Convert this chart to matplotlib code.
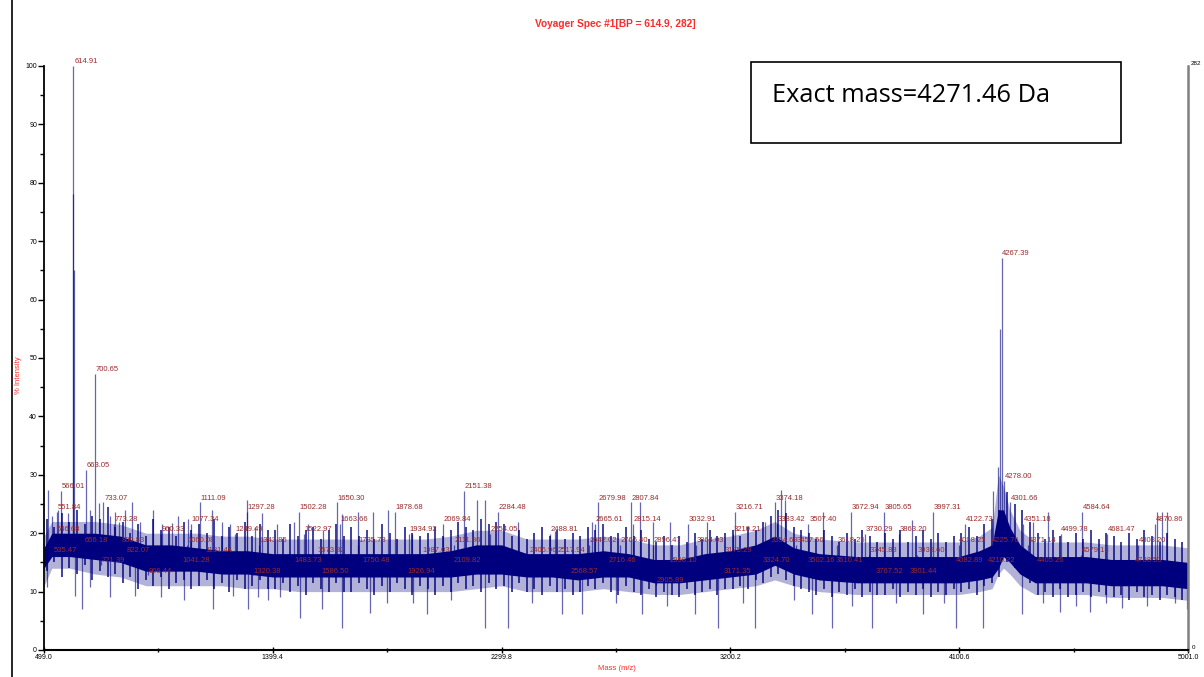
import matplotlib
matplotlib.use("Agg")
import matplotlib.pyplot as plt
from matplotlib.lines import Line2D
from matplotlib.patches import Rectangle
import numpy as np

# ---- spectrum data (m/z, % intensity) ----
# noise band: dense core and lighter fringe
band_mass = [499, 530, 600, 700, 800, 900, 1000, 1100, 1200, 1300, 1400, 1500, 1600,
             1700, 1800, 1900, 2000, 2100, 2200, 2300, 2400, 2500, 2600, 2700, 2800,
             2900, 3000, 3100, 3200, 3300, 3375, 3450, 3550, 3700, 3850, 4000, 4100,
             4180, 4230, 4255, 4275, 4300, 4340, 4400, 4500, 4600, 4700, 4800, 4900, 5001]
core_lo = [14.0, 16.0, 16.0, 15.5, 15.0, 13.5, 13.5, 13.5, 13.0, 13.0, 12.5, 12.5, 12.5,
           12.5, 12.5, 12.5, 12.5, 12.5, 13.0, 13.0, 12.5, 12.5, 12.0, 12.5, 12.5,
           11.5, 11.5, 12.0, 12.5, 13.0, 14.5, 13.0, 12.0, 11.5, 11.5, 11.5, 11.5,
           12.0, 12.5, 14.0, 16.0, 15.0, 13.0, 11.5, 11.5, 11.5, 11.0, 11.0, 11.0, 10.5]
core_hi = [17.5, 20.0, 20.0, 20.0, 19.5, 18.0, 18.0, 17.5, 17.0, 17.0, 16.5, 16.5, 16.5,
           16.5, 16.5, 16.5, 16.5, 17.0, 18.0, 18.0, 16.5, 16.5, 16.5, 17.0, 16.5,
           15.5, 15.5, 16.5, 17.0, 18.0, 19.5, 17.5, 16.5, 16.0, 16.0, 16.0, 16.0,
           17.0, 18.0, 24.0, 24.0, 21.0, 18.0, 16.0, 16.0, 16.0, 15.5, 15.5, 15.5, 15.0]
fringe_lo = [11.0, 14.0, 14.0, 13.0, 12.5, 11.0, 11.0, 11.0, 11.0, 10.5, 10.5, 10.0, 10.0,
             10.0, 10.0, 10.0, 10.0, 10.0, 10.5, 11.0, 10.0, 10.0, 10.0, 10.5, 10.0,
             9.5, 9.5, 10.0, 10.5, 11.0, 12.0, 11.0, 10.0, 9.5, 9.5, 9.5, 9.5,
             10.0, 10.5, 13.0, 14.0, 13.0, 11.0, 9.5, 9.5, 9.5, 9.0, 9.0, 9.0, 8.5]
fringe_hi = [19.5, 22.0, 22.0, 22.0, 21.5, 20.0, 20.0, 20.0, 19.5, 19.5, 19.0, 19.0, 19.0,
             19.0, 19.0, 19.0, 19.0, 19.5, 20.5, 20.5, 19.0, 19.0, 19.0, 19.5, 19.0,
             18.0, 18.0, 19.0, 19.5, 20.5, 22.0, 20.0, 19.0, 18.5, 18.5, 18.5, 18.5,
             19.5, 21.0, 30.0, 28.0, 24.0, 20.5, 18.5, 18.5, 18.5, 18.0, 18.0, 18.0, 17.5]

# noise strokes sampled every 30 m/z from 509: top and bottom of each stroke
noise_start, noise_step = 509, 30
noise_hi = [22.5, 21.0, 23.5, 22.0, 24.0, 21.5, 23.0, 22.5, 24.5, 21.0,
            22.0, 20.0, 21.5, 19.5, 22.5, 20.5, 21.0, 19.5, 22.0, 20.5,
            21.5, 20.0, 22.5, 19.5, 21.0, 20.0, 22.0, 19.5, 21.5, 20.5,
            20.5, 19.0, 21.5, 19.5, 20.5, 21.0, 19.0, 20.5, 21.5, 19.5,
            21.0, 19.5, 20.5, 19.0, 21.5, 20.0, 19.0, 21.0, 20.0, 19.5,
            20.0, 21.0, 19.5, 20.5, 22.0, 21.0, 20.5, 22.5, 21.5, 22.0,
            21.5, 19.5, 20.5, 19.0, 20.0, 21.0, 19.5, 20.5, 19.0, 20.0,
            19.5, 21.0, 20.5, 21.5, 19.5, 20.0, 21.0, 19.5, 20.5, 19.0,
            18.5, 19.5, 18.0, 19.5, 18.5, 20.0, 19.0, 20.5, 19.5, 20.0,
            20.5, 19.5, 21.0, 20.5, 22.0, 23.0, 24.0, 23.5, 21.0, 20.5,
            20.0, 19.0, 20.5, 19.5, 18.5, 20.0, 19.0, 20.5, 19.5, 18.5,
            20.0, 19.0, 20.5, 18.5, 19.5, 20.5, 19.0, 20.0, 18.5, 19.5,
            20.0, 21.0, 19.5, 21.5, 22.5, 24.0, 27.0, 25.0, 24.0, 22.0,
            20.0, 19.0, 20.5, 19.5, 18.5, 20.0, 19.0, 20.5, 19.0, 20.0,
            19.5, 18.5, 20.0, 19.0, 20.5, 19.5, 18.5, 20.0, 19.0, 18.5]
noise_lo = [13.5, 15.0, 12.5, 14.0, 13.0, 14.5, 12.0, 13.5, 12.5, 13.0,
            11.5, 12.5, 10.5, 12.0, 11.0, 12.5, 10.5, 11.5, 12.0, 10.5,
            11.0, 12.0, 10.5, 11.5, 10.0, 12.0, 10.5, 11.0, 12.0, 10.5,
            10.5, 11.5, 10.0, 11.0, 9.5, 11.5, 10.5, 10.0, 11.5, 10.0,
            10.0, 11.5, 10.5, 9.5, 11.0, 10.0, 11.5, 10.5, 9.5, 11.0,
            10.5, 9.5, 11.0, 10.0, 11.5, 10.5, 11.0, 10.0, 11.5, 10.5,
            11.0, 10.0, 11.5, 10.0, 10.5, 9.5, 11.0, 10.0, 10.5, 9.5,
            10.0, 11.0, 10.5, 11.5, 10.0, 9.5, 11.0, 10.0, 9.5, 10.5,
            9.0, 10.0, 9.5, 9.0, 10.5, 9.5, 10.0, 10.5, 9.5, 10.5,
            10.5, 11.0, 10.5, 12.0, 11.5, 12.5, 13.0, 12.0, 11.0, 10.5,
            10.0, 9.5, 10.5, 9.0, 10.0, 9.5, 10.5, 9.0, 10.0, 9.5,
            9.5, 10.5, 9.0, 10.0, 9.5, 10.5, 9.0, 10.0, 9.5, 10.5,
            10.0, 10.5, 9.5, 11.0, 11.5, 12.5, 15.0, 14.0, 13.0, 11.5,
            9.5, 10.0, 9.0, 10.5, 9.0, 9.5, 10.0, 9.0, 10.0, 9.5,
            9.0, 9.5, 8.5, 10.0, 9.0, 9.5, 8.5, 9.5, 9.0, 8.5]

# unlabelled spikes above the band
spike_mass = [515, 530, 554, 593, 613, 616, 680, 715, 759, 778, 794, 818, 845, 877, 928,
              963, 1003, 1026, 1066, 1160, 1199, 1231, 1298, 1329, 1357, 1416, 1483,
              1538, 1597, 1672, 1735, 1794, 1853, 1947, 2203, 2234, 2364, 2510, 2655,
              2844, 2895, 2962, 3108, 3336, 3399, 3415, 3564, 3915, 4233, 4253, 4262,
              4391, 4450, 4879, 4898, 4918]
spike_int = [27.4, 23.0, 24.0, 23.5, 78.0, 65.0, 24.0, 25.2, 23.0, 23.6, 22.0, 23.9, 25.4,
             22.0, 24.0, 21.5, 21.7, 23.0, 22.5, 23.9, 22.0, 21.5, 25.7, 21.0, 23.5,
             21.5, 22.0, 21.5, 20.5, 23.3, 23.6, 23.6, 23.9, 19.9, 25.6, 25.6, 21.9,
             20.3, 21.9, 25.3, 21.9, 21.9, 21.9, 21.9, 27.4, 25.6, 23.6, 22.2, 27.2,
             31.3, 55.0, 21.9, 23.6, 23.6, 23.6, 23.6]

# dips below the band
dip_mass = [511, 621, 649, 680, 760, 857, 960, 1050, 1164, 1243, 1302, 1341, 1380, 1428,
            1506, 1593, 1672, 1782, 1850, 1950, 2006, 2100, 2234, 2325, 2420, 2537, 2616,
            2750, 2852, 2950, 3061, 3151, 3250, 3297, 3450, 3521, 3600, 3680, 3757, 3850,
            3958, 4040, 4088, 4194, 4347, 4430, 4497, 4560, 4615, 4680, 4741, 4840, 4950, 4998]
dip_int = [10.8, 9.2, 7.0, 10.8, 9.0, 9.2, 9.0, 8.5, 7.0, 9.2, 7.0, 9.0, 8.5, 9.0,
           5.4, 7.0, 3.8, 6.3, 8.0, 8.0, 6.2, 8.5, 3.7, 3.7, 8.0, 6.2, 6.2,
           8.0, 6.2, 7.5, 6.2, 3.7, 8.0, 3.7, 8.5, 6.2, 3.7, 7.5, 3.7, 8.0,
           6.2, 8.0, 3.7, 3.7, 6.2, 8.0, 6.5, 7.5, 6.5, 8.0, 7.2, 7.5, 8.0, 7.0]

# annotated peaks
peak_mass = [535.47, 546.68, 551.84, 566.01, 614.91, 656.18, 663.05, 700.65, 721.39, 733.07,
             773.28, 800.83, 822.07, 906.44, 960.33, 1041.28, 1060.08, 1077.34, 1111.09,
             1131.44, 1249.49, 1297.28, 1320.38, 1343.85, 1483.73, 1502.28, 1522.97,
             1573.82, 1586.50, 1650.30, 1663.66, 1735.73, 1750.48, 1878.68, 1926.94,
             1934.92, 1987.03, 2069.84, 2109.82, 2111.86, 2151.38, 2254.05, 2284.48,
             2406.96, 2517.94, 2488.81, 2568.57, 2642.02, 2665.61, 2679.98, 2716.46,
             2765.40, 2807.84, 2815.14, 2896.47, 2905.89, 2958.10, 3032.91, 3064.03,
             3171.35, 3175.29, 3210.21, 3216.71, 3324.70, 3354.69, 3374.18, 3383.42,
             3457.56, 3502.16, 3507.40, 3610.41, 3618.25, 3672.94, 3730.29, 3745.88,
             3767.52, 3805.65, 3863.20, 3901.44, 3933.60, 3997.31, 4082.89, 4098.25,
             4122.73, 4210.22, 4225.76, 4267.39, 4278.00, 4301.66, 4351.18, 4371.14,
             4405.26, 4499.78, 4579.13, 4584.64, 4681.47, 4788.53, 4803.20, 4870.86]
peak_int = [16.3, 19.9, 23.6, 27.2, 100.0, 18.0, 30.8, 47.3, 14.6, 25.3,
            21.6, 18.0, 16.3, 12.8, 19.9, 14.6, 18.0, 21.6, 25.3,
            16.3, 19.9, 23.6, 12.8, 18.0, 14.6, 23.6, 19.9,
            16.3, 12.8, 25.3, 21.6, 18.0, 14.6, 23.6, 12.8,
            19.9, 16.3, 21.6, 14.6, 18.0, 27.2, 19.9, 23.6,
            16.3, 16.3, 19.9, 12.8, 18.0, 21.6, 25.3, 14.6,
            18.0, 25.3, 21.6, 18.0, 11.1, 14.6, 21.6, 18.0,
            12.8, 16.3, 19.9, 23.6, 14.6, 18.0, 25.3, 21.6,
            18.0, 14.6, 21.6, 14.6, 18.0, 23.6, 19.9, 16.3,
            12.8, 23.6, 19.9, 12.8, 16.3, 23.6, 14.6, 18.0,
            21.6, 14.6, 18.0, 67.1, 29.0, 25.3, 21.6, 18.0,
            14.6, 19.9, 16.3, 23.6, 19.9, 14.6, 18.0, 21.6]

x_ticks = [499.0, 1399.4, 2299.8, 3200.2, 4100.6, 5001.0]
base_peak = "614.9"
base_counts = 282
exact_mass = 4271.46

NAVY = "#00007f"
LABEL_RED = "#9a2a2a"
RED = "#ff2a2a"

plt.rcParams["font.family"] = ["Liberation Sans", "DejaVu Sans"]

fig = plt.figure(figsize=(12.04, 6.77), dpi=100)
ax = fig.add_axes([44 / 1204, 27 / 677, (1188 - 44) / 1204, (650 - 66) / 677])
ax.set_xlim(x_ticks[0], x_ticks[-1])
ax.set_ylim(0, 100)

bm = np.array(band_mass)
mid = (np.array(core_lo) + np.array(core_hi)) / 2

def base_at(m):
    return np.interp(m, bm, mid)

noise_mass = noise_start + noise_step * np.arange(len(noise_hi))

# light fringe, dense core, then individual noise strokes on top
ax.fill_between(bm, fringe_lo, fringe_hi, color=NAVY, alpha=0.3, lw=0)
ax.fill_between(bm, core_lo, core_hi, color=NAVY, alpha=1.0, lw=0)
ax.vlines(noise_mass, noise_lo, noise_hi, color=NAVY, lw=1.4, alpha=0.75)

ax.vlines(spike_mass, base_at(np.array(spike_mass)), spike_int, color=NAVY, lw=0.9, alpha=0.6)
ax.vlines(dip_mass, dip_int, base_at(np.array(dip_mass)), color=NAVY, lw=0.9, alpha=0.6)
ax.vlines(peak_mass, base_at(np.array(peak_mass)), peak_int, color=NAVY, lw=0.9, alpha=0.6)

for m, v in zip(peak_mass, peak_int):
    ax.annotate(f"{m:.2f}", (m, v), xytext=(0.5, 0.5), textcoords="offset points",
                ha="left", va="bottom", fontsize=5.5, color=LABEL_RED)

# axes styling
ax.spines["top"].set_visible(False)
ax.spines["left"].set_linewidth(1.3)
ax.spines["bottom"].set_linewidth(1.5)
ax.spines["right"].set_color("#808080")
ax.spines["right"].set_linewidth(1.8)

ax.set_yticks(np.arange(0, 101, 10))
ax.set_yticks(np.arange(5, 100, 10), minor=True)
ax.set_yticklabels([str(v) for v in range(0, 101, 10)])
ax.set_xticks(x_ticks)
ax.set_xticklabels([f"{v:.1f}" for v in x_ticks])
ax.set_xticks([(a + b) / 2 for a, b in zip(x_ticks[:-1], x_ticks[1:])], minor=True)
ax.tick_params(axis="both", which="major", labelsize=5, width=1, length=4, direction="out", pad=1)
ax.tick_params(axis="both", which="minor", width=1, length=3, direction="out")
ax.tick_params(axis="x", which="both", direction="inout")

ax.text(1.002, 1.0, str(base_counts), transform=ax.transAxes, fontsize=4.5, ha="left", va="bottom")
ax.text(1.003, 0.0, "0", transform=ax.transAxes, fontsize=4.5, ha="left", va="bottom")

fig.text(0.511, 1 - 24 / 677, f"Voyager Spec #1[BP = {base_peak}, {base_counts}]",
         color=RED, fontsize=7.3, fontweight="bold", ha="center", va="center")
fig.text(18 / 1204, 1 - 375 / 677, "% Intensity", color=RED, fontsize=5.5,
         rotation=90, ha="center", va="center")
fig.text(617 / 1204, 1 - 668 / 677, "Mass (m/z)", color=RED, fontsize=5.5,
         ha="center", va="center")

# page border on the left
fig.add_artist(Line2D([12 / 1204, 12 / 1204], [0, 1], transform=fig.transFigure,
                      color="black", lw=1.2))

# annotation box
fig.add_artist(Rectangle((751 / 1204, 1 - 143 / 677), (1121 - 751) / 1204, (143 - 62) / 677,
                         transform=fig.transFigure, fill=False, edgecolor="black", lw=1.2))
fig.text(772 / 1204, 1 - 96 / 677, f"Exact mass={exact_mass} Da", fontsize=18.3,
         family=["Open Sans", "DejaVu Sans"], ha="left", va="center")

fig.savefig("out.png", dpi=100)
